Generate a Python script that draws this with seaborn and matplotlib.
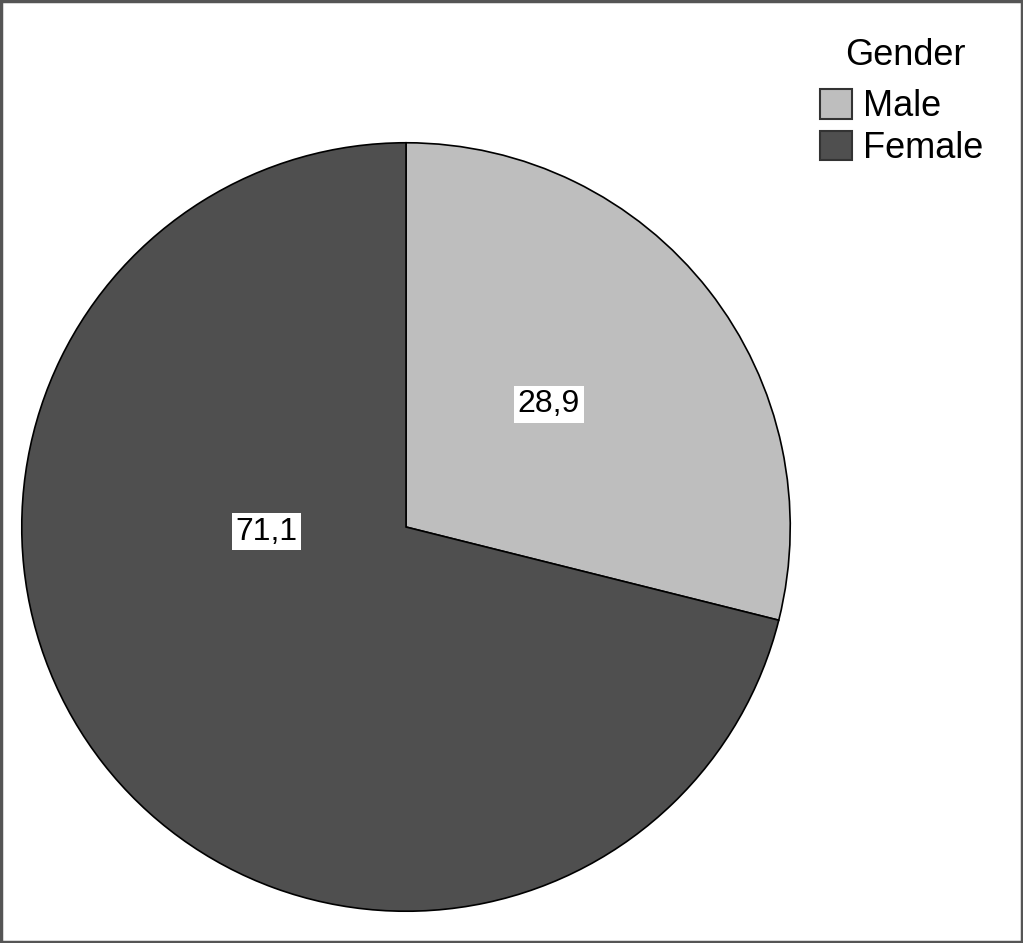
import matplotlib.pyplot as plt
import matplotlib.patches as mpatches
import seaborn as sns

sns.set_theme(style="white")
plt.rcParams['font.family'] = ['Liberation Sans', 'DejaVu Sans']
plt.rcParams['text.color'] = 'black'

# Gender distribution (%)
categories = ['Male', 'Female']
percentages = [28.9, 71.1]
colors = ['#bebebe', '#4f4f4f']

fig = plt.figure(figsize=(10.23, 9.43), dpi=100)
ax = fig.add_axes([21 / 1023, 31 / 943, 770 / 1023, 770 / 943])

wedges, texts, autotexts = ax.pie(
    percentages, colors=colors, startangle=90, counterclock=False,
    autopct=lambda p: f"{p:.1f}".replace('.', ','), pctdistance=0.49,
    wedgeprops=dict(edgecolor='black', linewidth=1.2),
    textprops=dict(fontsize=23, color='black'))
ax.set_xlim(-1.002, 1.002)
ax.set_ylim(-1.002, 1.002)
ax.set_aspect('equal')

for t in autotexts:
    t.set_bbox(dict(facecolor='white', edgecolor='none', pad=2.5))
# SPSS-like label placement
autotexts[0].set_position((0.372, 0.32))
autotexts[1].set_position((-0.362, -0.012))

fig.text(905 / 1023, 1 - 38 / 943, 'Gender', ha='center', va='top', fontsize=26, color='black')
leg = fig.legend(wedges, categories, loc='upper left',
                 bbox_to_anchor=(820 / 1023, 1 - 89 / 943), frameon=False, fontsize=26,
                 handlelength=0.88, handleheight=0.88, borderpad=0,
                 handletextpad=0.3, labelspacing=0.18, borderaxespad=0)
for txt in leg.get_texts():
    txt.set_color('black')
for h in leg.legend_handles:
    h.set_edgecolor('#333333')
    h.set_linewidth(1.5)

# outer frame
fig.patches.append(mpatches.Rectangle((0.001, 0.001), 0.998, 0.998, transform=fig.transFigure,
                                      fill=False, edgecolor='#555555', linewidth=2.5))

plt.savefig('out.png', dpi=100)
plt.close()
